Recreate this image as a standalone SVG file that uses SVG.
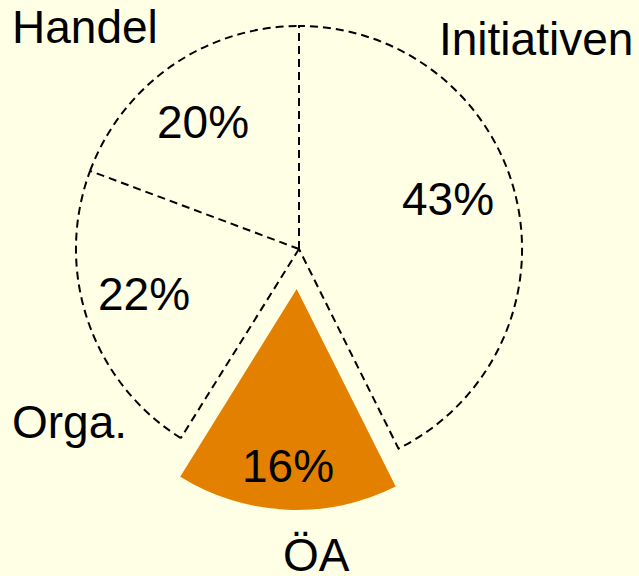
<svg xmlns="http://www.w3.org/2000/svg" width="639" height="576" viewBox="0 0 639 576">
<style>
.dash{fill:none;stroke:#000;stroke-width:2;stroke-dasharray:8 5}
text{font-family:"Liberation Sans",Arial,sans-serif;font-size:46px;fill:#000}
</style>
<rect width="639" height="576" fill="#FFFFE6"/>
<g id="initiativen">
<path class="dash" d="M299,249 L299,26 A223,223 0 0 1 398.5,448.6 Z"/>
<text x="402" y="215">43%</text>
<text x="439" y="55">Initiativen</text>
</g>
<g id="handel">
<path class="dash" d="M90.1,170.9 A223,223 0 0 1 299,26 M299,249 L90.1,170.9"/>
<text x="157" y="138">20%</text>
<text x="12" y="43">Handel</text>
</g>
<g id="orga">
<path class="dash" d="M180.8,438.1 A223,223 0 0 1 90.1,170.9 M299,249 L180.8,438.1"/>
<text x="98" y="310">22%</text>
<text x="12" y="438">Orga.</text>
</g>
<g id="oea">
<path d="M296.7,289 L395.7,486.6 A221,221 0 0 1 180.2,476.8 Z" fill="#E38000"/>
<text x="242" y="482">16%</text>
<text x="283" y="571">ÖA</text>
</g>
</svg>
